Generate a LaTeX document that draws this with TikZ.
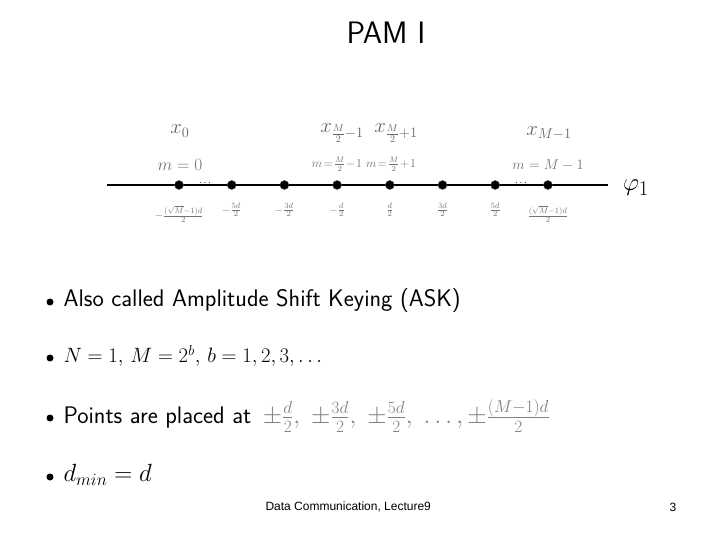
\documentclass[tikz,border=0pt]{standalone}
\usepackage{fontspec}
\newfontfamily\footfont{Liberation Sans}
\begin{document}
\begin{tikzpicture}[x=1pt,y=-1pt,
  dot/.style={circle,fill=black,draw=black!70,inner sep=0pt,minimum size=9pt},
  below lbl/.style={font=\fontsize{11}{12}\selectfont,text=black!55,inner sep=1pt},
  top lbl/.style={font=\fontsize{20}{22}\selectfont,text=black!60,inner sep=1pt},
  m lbl/.style={font=\fontsize{14}{16}\selectfont,text=black!55,inner sep=1pt},
  item/.style={anchor=west,font=\fontsize{24}{28}\selectfont\sffamily},
  bullet/.style={circle,fill=black,inner sep=0pt,minimum size=7pt}]
\useasboundingbox (0,0) rectangle (720,540);
\fill[white] (0,0) rectangle (720,540);

\node[font=\fontsize{31}{34}\selectfont\sffamily] (title) at (386,33) {PAM I};

% signal space axis
\coordinate (ax1) at (107,185);
\coordinate (ax2) at (608,185);
\draw[line width=1.2pt] (ax1) -- (ax2);
\node[font=\fontsize{28}{30}\selectfont] (phi) at (636,188) {$\varphi_1$};

\foreach \i/\x in {1/179,2/231.7,3/284.4,4/337.1,5/389.8,6/442.5,7/495.2,8/547.9}
  \node[dot] (p\i) at (\x,185) {};
\node[inner sep=1pt] (dl) at (205,183) {$\cdots$};
\node[inner sep=1pt] (dr) at (521,183) {$\cdots$};

% labels under the points
\node[below lbl] (b1) at (p1.center) [yshift=-29pt] {$-\frac{(\sqrt{M}-1)d}{2}$};
\node[below lbl] (b2) at (p2.center) [yshift=-25pt] {$-\frac{5d}{2}$};
\node[below lbl] (b3) at (p3.center) [yshift=-25pt] {$-\frac{3d}{2}$};
\node[below lbl] (b4) at (p4.center) [yshift=-25pt] {$-\frac{d}{2}$};
\node[below lbl] (b5) at (p5.center) [yshift=-25pt] {$\frac{d}{2}$};
\node[below lbl] (b6) at (p6.center) [yshift=-25pt] {$\frac{3d}{2}$};
\node[below lbl] (b7) at (p7.center) [yshift=-25pt] {$\frac{5d}{2}$};
\node[below lbl] (b8) at (p8.center) [yshift=-29pt] {$\frac{(\sqrt{M}-1)d}{2}$};

% labels over the points
\node[top lbl] (x0) at (180,131) {$x_0$};
\node[m lbl,font=\fontsize{17}{19}\selectfont] (m0) at (180,165) {$m=0$};
\node[top lbl] (xa) at (342,133) {$x_{\frac{M}{2}-1}$};
\node[m lbl,font=\fontsize{12}{14}\selectfont] (ma) at (337,164) {$m\!=\!\frac{M}{2}\!-\!1$};
\node[top lbl] (xb) at (396,133) {$x_{\frac{M}{2}+1}$};
\node[m lbl,font=\fontsize{12}{14}\selectfont] (mb) at (391,164) {$m\!=\!\frac{M}{2}\!+\!1$};
\node[top lbl] (xc) at (549,133) {$x_{M-1}$};
\node[m lbl] (mc) at (548,165) {$m=M-1$};

% bullet list
\node[bullet] (d1) at (50,302) {};
\node[item] (t1) at (60,301) {Also called Amplitude Shift Keying (ASK)};
\node[bullet] (d2) at (50,358) {};
\node[item,font=\fontsize{22}{26}\selectfont] (t2) at (60,356) {$N=1,\,M=2^b,\,b=1,2,3,\ldots$};
\node[bullet] (d3) at (50,418) {};
\node[item] (t3) at (60,416) {Points are placed at\, \textcolor{black!50}{$\pm\frac{d}{2},\;\pm\frac{3d}{2},\;\pm\frac{5d}{2},\;\ldots,\pm\frac{(M-1)d}{2}$}};
\node[bullet] (d4) at (50,477) {};
\node[item] (t4) at (60,475) {$d_{min}=d$};

% footer
\node[anchor=west,font=\footfont\fontsize{12}{14}\selectfont] (foot) at (262,507) {Data Communication, Lecture9};
\node[font=\footfont\fontsize{12}{14}\selectfont] (page) at (673,507) {3};
\end{tikzpicture}
\end{document}
